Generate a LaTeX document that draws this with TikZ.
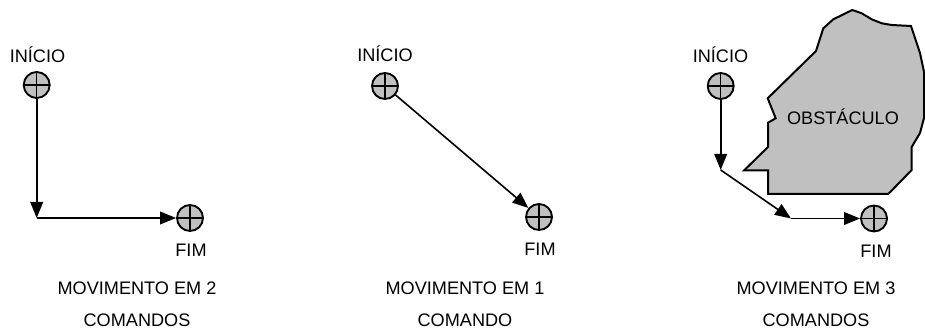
\documentclass[tikz,border=0pt]{standalone}
\usepackage{fontspec}
\setmainfont{Liberation Sans}
\usetikzlibrary{arrows.meta}
\definecolor{fillgray}{RGB}{192,192,192}
\begin{document}
\begin{tikzpicture}[x=0.75pt,y=-0.75pt,
  ptmark/.style={circle,draw,line width=1.4pt,fill=fillgray,minimum size=19.5pt,inner sep=0pt,
    path picture={\draw[line width=1.1pt] (path picture bounding box.north) -- (path picture bounding box.south)
      (path picture bounding box.west) -- (path picture bounding box.east);}},
  lbl/.style={font=\fontsize{13.6}{16}\selectfont,inner sep=0pt,anchor=base},
  mv/.style={line width=1.2pt,-{Triangle[length=12pt,width=9.5pt]}},
  obst/.style={draw,line width=1.5pt,fill=fillgray,line join=miter}]
\useasboundingbox (0,0) rectangle (925,334);

% obstacle
\draw[obst] (767.7,98.3) -- (816,51) -- (823.3,28.3) -- (833.3,19.3) -- (852.3,10) -- (861.7,13.3)
  -- (871.7,19.3) -- (881.7,23.3) -- (891.7,25) -- (911,26) -- (920,53) -- (924,72) -- (924,118)
  -- (920,133) -- (911.7,147) -- (911.7,170) -- (888.3,194) -- (768,194) -- (768,170.5)
  -- (744,170.5) -- (768,147) -- (768,122.7) -- (775.7,118.3) -- cycle;
\node[lbl] (obsttxt) at (843,125) {OBSTÁCULO};

% panel 1
\node[ptmark] (p1s) at (36.7,85) {};
\node[ptmark] (p1e) at (190,218) {};
\coordinate (c1) at (36.7,218);
\node[lbl] (p1si) at (37.5,62.3) {INÍCIO};
\node[lbl] (p1ef) at (191,256.5) {FIM};
\draw[mv] (p1s) -- (c1);
\draw[mv] (c1) -- (p1e);
\node[lbl] (p1t1) at (137,295) {MOVIMENTO EM 2};
\node[lbl] (p1t2) at (137,326.7) {COMANDOS};

% panel 2
\node[ptmark] (p2s) at (385,86) {};
\node[ptmark] (p2e) at (539,217) {};
\node[lbl] (p2si) at (385,62) {INÍCIO};
\node[lbl] (p2ef) at (540,255.5) {FIM};
\draw[mv] (p2s) -- (p2e);
\node[lbl] (p2t1) at (465,295) {MOVIMENTO EM 1};
\node[lbl] (p2t2) at (465,326.7) {COMANDO};

% panel 3
\node[ptmark] (p3s) at (720.7,86) {};
\node[ptmark] (p3e) at (874,218.5) {};
\coordinate (c3a) at (720.7,170);
\coordinate (c3b) at (791,218.5);
\node[lbl] (p3si) at (720.5,62.5) {INÍCIO};
\node[lbl] (p3ef) at (876,257.5) {FIM};
\draw[mv] (p3s) -- (c3a);
\draw[mv] (c3a) -- (c3b);
\draw[mv] (c3b) -- (p3e);
\node[lbl] (p3t1) at (816,295) {MOVIMENTO EM 3};
\node[lbl] (p3t2) at (816,326.7) {COMANDOS};
\end{tikzpicture}
\end{document}
